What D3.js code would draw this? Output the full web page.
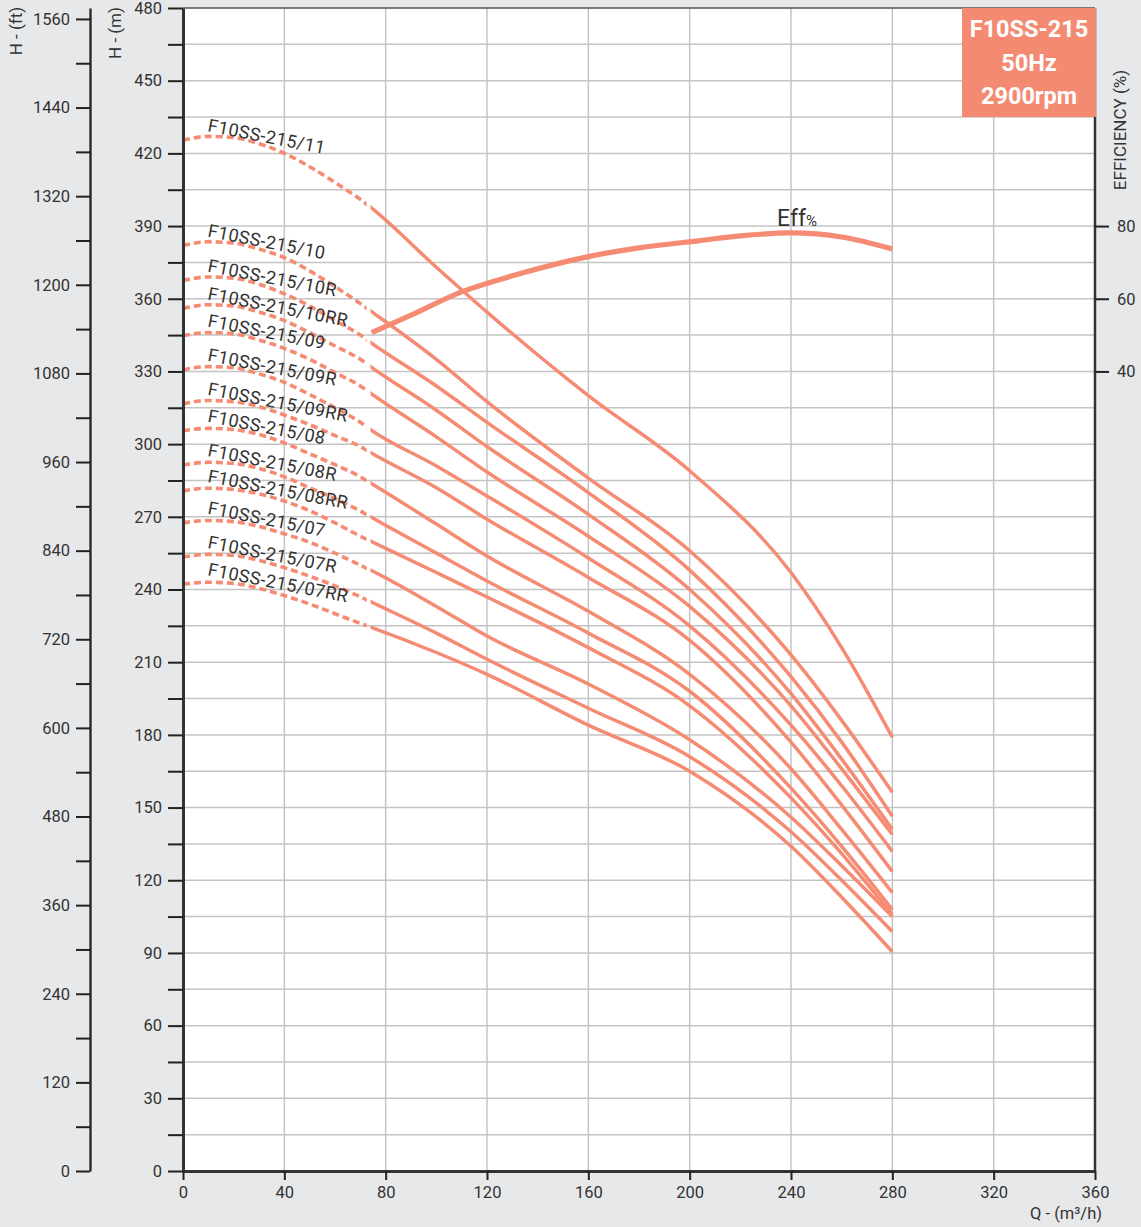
<!DOCTYPE html>
<html><head><meta charset="utf-8">
<script src="https://cdn.jsdelivr.net/npm/d3@7"></script>
<style>
html,body{margin:0;padding:0;background:#e7e8ea;}
svg{display:block;font-family:Roboto,"Noto Sans",sans-serif;}
</style></head><body>
<svg id="chart" width="1141" height="1227"></svg>
<script>
// ---------------- data ----------------
const flowTicks = [0, 40, 80, 120, 160, 200, 240, 280, 320, 360];
const headTicks = [0, 30, 60, 90, 120, 150, 180, 210, 240, 270, 300, 330, 360, 390, 420, 450, 480];
const feetTicks = [0, 120, 240, 360, 480, 600, 720, 840, 960, 1080, 1200, 1320, 1440, 1560];
const effTicks = [40, 60, 80];

const curveNames = ["F10SS-215/11", "F10SS-215/10", "F10SS-215/10R", "F10SS-215/10RR",
  "F10SS-215/09", "F10SS-215/09R", "F10SS-215/09RR", "F10SS-215/08", "F10SS-215/08R",
  "F10SS-215/08RR", "F10SS-215/07", "F10SS-215/07R", "F10SS-215/07RR"];

const flowQ = [0, 10, 20, 30, 40, 50, 60, 70, 74, 100, 120, 160, 200, 240, 260, 280];
const h11   = [425.4, 427, 426.5, 424, 420, 414.5, 408, 401, 397.8, 373, 354.5, 320, 289, 247, 216, 179];
const h10   = [382, 383.5, 383, 380.5, 377, 371.5, 365, 358, 355, 335, 317.5, 286, 256, 213, 186, 156.3];
const h10R  = [367.5, 369, 368.5, 366, 362, 357, 351, 345, 342, 324, 309, 280, 248, 204, 177, 146.4];
const h10RR = [356, 357.5, 357, 354.5, 351, 346, 340.5, 335, 332, 314, 299, 271, 240, 197, 170, 141];
const h09   = [344.8, 346, 345.5, 343, 339.5, 335, 329.5, 324, 321, 303, 288.5, 262, 233, 192, 166, 138.9];
const h09R  = [330.7, 332, 331.5, 329, 325.5, 320.5, 315, 309, 306, 291, 278.6, 253, 225, 184, 159, 131.9];
const h09RR = [316.7, 318, 317.5, 315.5, 312, 308, 303.5, 299, 296.5, 282, 269, 245, 219, 177, 151, 123.6];
const h08   = [305.5, 306.5, 306, 304, 300.5, 296, 291.5, 286.5, 284, 267, 253.8, 231, 205, 166, 141, 114.9];
const h08R  = [291.4, 292.5, 292, 290, 286.5, 282, 277.5, 272.4, 270, 255, 243.5, 222, 198, 158, 134, 107.9];
const h08RR = [280.7, 281.8, 281.3, 279.5, 276.5, 272.5, 267.5, 262, 260, 247, 236.9, 216, 192, 154, 131, 105.8];
const h07   = [267.5, 268.5, 268, 266, 263, 259.5, 255, 250, 248, 233, 220.8, 201, 178, 146, 126, 105];
const h07R  = [253.4, 254.5, 254, 252, 249, 245.5, 241.5, 237, 235, 222, 211.2, 191, 171, 140, 120, 98.8];
const h07RR = [242.2, 243, 242.5, 240.5, 237.5, 234, 230, 226, 224.5, 214, 205, 184, 165, 134, 113, 90.5];
const curveHeads = [h11, h10, h10R, h10RR, h09, h09R, h09RR, h08, h08R, h08RR, h07, h07R, h07RR];

const effQ    = [74.5, 90, 110, 130, 160, 180, 204, 220, 240, 260, 280];
const effVals = [50.7, 55.5, 61.9, 66.3, 71.6, 74, 76, 77.3, 78.1, 77, 73.7];

const titleLines = ["F10SS-215", "50Hz", "2900rpm"];

// ---------------- layout ----------------
const COLOR = "#f68b73";
const TEXT = "#333";
const FONT = "Roboto, 'Noto Sans', sans-serif";
const svg = d3.select("#chart");
const L = 183, R = 1095, T = 8, B = 1171;

const x = d3.scaleLinear().domain([0, 360]).range([L, R]);
const y = d3.scaleLinear().domain([0, 480]).range([B, T]);
const yft = d3.scaleLinear().domain([0, 480 / 0.3048]).range([B, T]);
const yEff = d3.scaleLinear().domain([0, 140]).range([y(270), y(480)]);

// plot background
svg.append("rect").attr("x", L).attr("y", T).attr("width", R - L).attr("height", B - T).attr("fill", "#fff");

// grid
const hGrid = d3.range(15, 480, 15);
svg.append("g").selectAll("line").data(hGrid).join("line")
  .attr("x1", L).attr("x2", R).attr("y1", d => y(d)).attr("y2", d => y(d))
  .attr("stroke", "#c4c4c4").attr("stroke-width", 1.5);
svg.append("g").selectAll("line").data(flowTicks.filter(d => d > 0 && d < 360)).join("line")
  .attr("x1", d => x(d)).attr("x2", d => x(d)).attr("y1", T).attr("y2", B)
  .attr("stroke", "#c4c4c4").attr("stroke-width", 1.5);

// clip regions for dotted / solid parts
const defs = svg.append("defs");
defs.append("clipPath").attr("id", "clipDot").append("rect")
  .attr("x", L).attr("y", 0).attr("width", x(72.5) - L).attr("height", 1227);
defs.append("clipPath").attr("id", "clipSolid").append("rect")
  .attr("x", x(74)).attr("y", 0).attr("width", R - x(74)).attr("height", 1227);

const line = d3.line().x(d => x(d[0])).y(d => y(d[1])).curve(d3.curveMonotoneX);

const curves = svg.append("g");
curveHeads.forEach((hs, i) => {
  const pts = flowQ.map((q, j) => [q, hs[j]]);
  curves.append("path").attr("d", line(pts)).attr("fill", "none")
    .attr("stroke", COLOR).attr("stroke-width", 3.6).attr("stroke-dasharray", "7,4")
    .attr("clip-path", "url(#clipDot)");
  curves.append("path").attr("d", line(pts)).attr("fill", "none")
    .attr("stroke", COLOR).attr("stroke-width", 3.5)
    .attr("clip-path", "url(#clipSolid)");
});

// curve labels
const labels = svg.append("g");
curveHeads.forEach((hs, i) => {
  labels.append("text")
    .attr("transform", `translate(${L + 24},${y(hs[0]) - 9}) rotate(11)`)
    .attr("font-size", 18).attr("fill", TEXT).attr("letter-spacing", 0.4)
    .text(curveNames[i]);
});

// efficiency curve
const effLine = d3.line().x(d => x(d[0])).y(d => yEff(d[1])).curve(d3.curveMonotoneX);
svg.append("path").attr("d", effLine(effQ.map((q, j) => [q, effVals[j]])))
  .attr("fill", "none").attr("stroke", COLOR).attr("stroke-width", 5.2);
const effLabel = svg.append("text").attr("x", x(234.5)).attr("y", 226).attr("fill", TEXT);
effLabel.append("tspan").attr("font-size", 23).text("Eff");
effLabel.append("tspan").attr("font-size", 15).text("%");

// frame
svg.append("line").attr("x1", L).attr("x2", R).attr("y1", T).attr("y2", T).attr("stroke", "#555").attr("stroke-width", 1.5);
svg.append("line").attr("x1", R).attr("x2", R).attr("y1", T).attr("y2", B).attr("stroke", "#333").attr("stroke-width", 2.5);

// axes
function styleAxis(g) {
  g.attr("font-family", FONT).attr("font-size", 16.5);
  g.selectAll("line").attr("stroke", "#222").attr("stroke-width", 2);
  g.selectAll("path.domain").attr("stroke", "#333").attr("stroke-width", 3);
  g.selectAll("text").attr("fill", TEXT);
}

// metres axis (left of plot)
const gm = svg.append("g").attr("transform", `translate(${L},0)`)
  .call(d3.axisLeft(y).tickValues(d3.range(0, 481, 15)).tickSize(15).tickSizeOuter(0).tickPadding(6)
    .tickFormat(d => headTicks.includes(d) ? d : ""));
styleAxis(gm);

// feet axis
const gf = svg.append("g").attr("transform", `translate(90,0)`)
  .call(d3.axisLeft(yft).tickValues(d3.range(0, 1561, 60)).tickSize(14).tickSizeOuter(0).tickPadding(6)
    .tickFormat(d => feetTicks.includes(d) ? d : ""));
styleAxis(gf);
gf.select("path.domain").attr("stroke", "#222").attr("stroke-width", 2.3);

// flow axis
const gx = svg.append("g").attr("transform", `translate(0,${B})`)
  .call(d3.axisBottom(x).tickValues(flowTicks).tickSize(9).tickSizeOuter(0).tickPadding(6));
styleAxis(gx);

// efficiency axis
const ge = svg.append("g").attr("transform", `translate(${R},0)`)
  .call(d3.axisRight(yEff).tickValues(effTicks).tickSize(14).tickSizeOuter(0).tickPadding(8));
styleAxis(ge);
ge.select("path.domain").remove();

// axis titles
svg.append("text").attr("transform", "translate(22,31) rotate(-90)").attr("text-anchor", "middle")
  .attr("font-size", 17).attr("fill", TEXT).text("H - (ft)");
svg.append("text").attr("transform", "translate(121,33) rotate(-90)").attr("text-anchor", "middle")
  .attr("font-size", 17).attr("fill", TEXT).text("H - (m)");
svg.append("text").attr("transform", "translate(1126,130) rotate(-90)").attr("text-anchor", "middle")
  .attr("font-size", 17).attr("fill", TEXT).text("EFFICIENCY (%)");
svg.append("text").attr("x", 1102).attr("y", 1219).attr("text-anchor", "end")
  .attr("font-size", 16.5).attr("fill", TEXT).text("Q - (m³/h)");

// title box
svg.append("rect").attr("x", 962).attr("y", T).attr("width", R + 1 - 962).attr("height", 109).attr("fill", "#f48a72");
const tb = [37, 71, 104];
titleLines.forEach((t, i) => {
  svg.append("text").attr("x", 1029).attr("y", tb[i]).attr("text-anchor", "middle")
    .attr("font-size", 23.5).attr("font-weight", 700).attr("fill", "#fff").text(t);
});
</script>
</body></html>
